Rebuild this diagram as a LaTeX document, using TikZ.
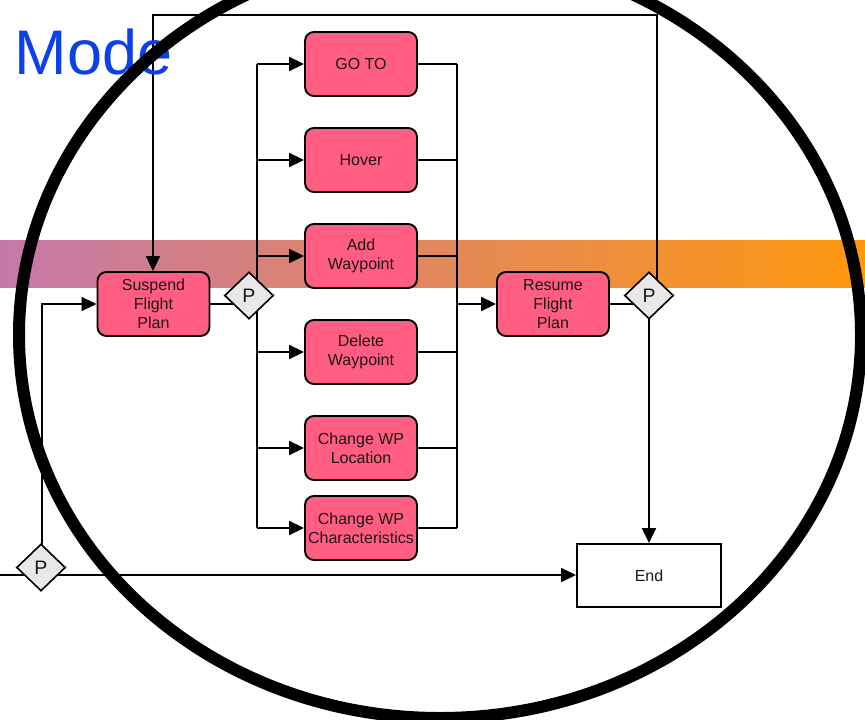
\documentclass[tikz,border=0pt]{standalone}
\usepackage{fontspec}
\setmainfont{Liberation Sans}
\usetikzlibrary{arrows.meta,shapes.geometric}

\definecolor{taskpink}{RGB}{255,94,130}
\definecolor{gatefill}{RGB}{232,232,232}
\definecolor{modeblue}{RGB}{12,64,232}
\definecolor{bandleft}{RGB}{198,120,170}
\definecolor{bandmid}{RGB}{234,138,118}
\definecolor{bandright}{RGB}{255,152,14}
\definecolor{inktext}{RGB}{30,20,25}

\pgfdeclarelayer{band}
\pgfdeclarelayer{edges}
\pgfdeclarelayer{top}
\pgfsetlayers{band,edges,main,top}

\tikzset{
  task/.style={draw=black, line width=1.9pt, fill=taskpink, rounded corners=9pt,
    minimum width=112pt, minimum height=64pt, inner sep=0pt, align=center,
    text=inktext, font=\fontsize{16}{19}\selectfont},
  endbox/.style={draw=black, line width=2pt, fill=white,
    minimum width=144pt, minimum height=63pt, inner sep=0pt,
    text=inktext, font=\fontsize{16}{19}\selectfont},
  gate/.style={diamond, draw=black, line width=1.6pt, fill=gatefill,
    minimum width=49pt, minimum height=47pt, inner sep=0pt,
    text=inktext, font=\fontsize{19.5}{19.5}\selectfont},
  flow/.style={line width=2pt, draw=black},
  arr/.style={flow, -{Triangle[length=15pt,width=14pt]}},
}

\begin{document}
\begin{tikzpicture}[x=1pt,y=-1pt]
\useasboundingbox (0,0) rectangle (865,720);

% colour band across the middle
\begin{pgfonlayer}{band}
  \fill[left color=bandleft, middle color=bandmid, right color=bandright]
    (0,240) rectangle (865,287);
\end{pgfonlayer}

% title
\node[anchor=base west, inner sep=0pt, text=modeblue,
      font=\fontsize{63}{63}\selectfont] (title) at (14.5,74) {Mode};

% tasks
\node[task] (suspend) at (153.5,304) {Suspend\\Flight\\Plan};
\node[task] (goto)    at (361,64)  {GO TO};
\node[task] (hover)   at (361,160) {Hover};
\node[task] (addwp)   at (361,256) {Add\\Waypoint};
\node[task] (delwp)   at (361,352) {Delete\\Waypoint};
\node[task] (locwp)   at (361,448) {Change WP\\Location};
\node[task] (chrwp)   at (361,528) {Change WP\\Characteristics};
\node[task] (resume)  at (553,304) {Resume\\Flight\\Plan};
\node[endbox] (end)   at (649,575.5) {End};

% gates
\node[gate] (p1) at (249,295.5) {P};
\node[gate] (p2) at (649,295.5) {P};
\node[gate] (p3) at (41,567.5) {P};

% routing points
\coordinate (splitT) at (257,64);
\coordinate (splitB) at (257,528);
\coordinate (joinT)  at (457,64);
\coordinate (joinB)  at (457,528);
\coordinate (loopR)  at (657,15);
\coordinate (loopL)  at (153,15);
\coordinate (inlet)  at (0,575);
\coordinate (riseX)  at (42,575);

\begin{pgfonlayer}{edges}
  % into the suspend gate
  \draw[flow] (suspend.east) -- (suspend.east -| p1.center);
  % fan out
  \draw[flow] (splitT) -- (splitB);
  \foreach \t in {goto,hover,addwp,delwp,locwp,chrwp}
    \draw[arr] (\t.west -| splitT) -- (\t.west);
  % fan in
  \draw[flow] (joinT) -- (joinB);
  \foreach \t in {goto,hover,addwp,delwp,locwp,chrwp}
    \draw[flow] (\t.east) -- (\t.east -| joinT);
  \draw[arr] (resume.west -| joinT) -- (resume.west);
  % resume gate
  \draw[flow] (resume.east) -- (resume.east -| p2.center);
  \draw[arr] (p2.center -| loopR) -- (loopR) -- (loopL) -- (loopL |- suspend.north);
  \draw[arr] (p2.center) -- (end.north);
  % entry line and its gate
  \draw[arr] (inlet) -- (inlet -| end.west);
  \draw[arr] (p3.center -| riseX) -- (riseX |- suspend.west) -- (suspend.west);
\end{pgfonlayer}

% outline ring
\begin{pgfonlayer}{top}
  \draw[line width=12pt] (440,335) ellipse [x radius=421pt, y radius=383pt];
\end{pgfonlayer}
\end{tikzpicture}
\end{document}
